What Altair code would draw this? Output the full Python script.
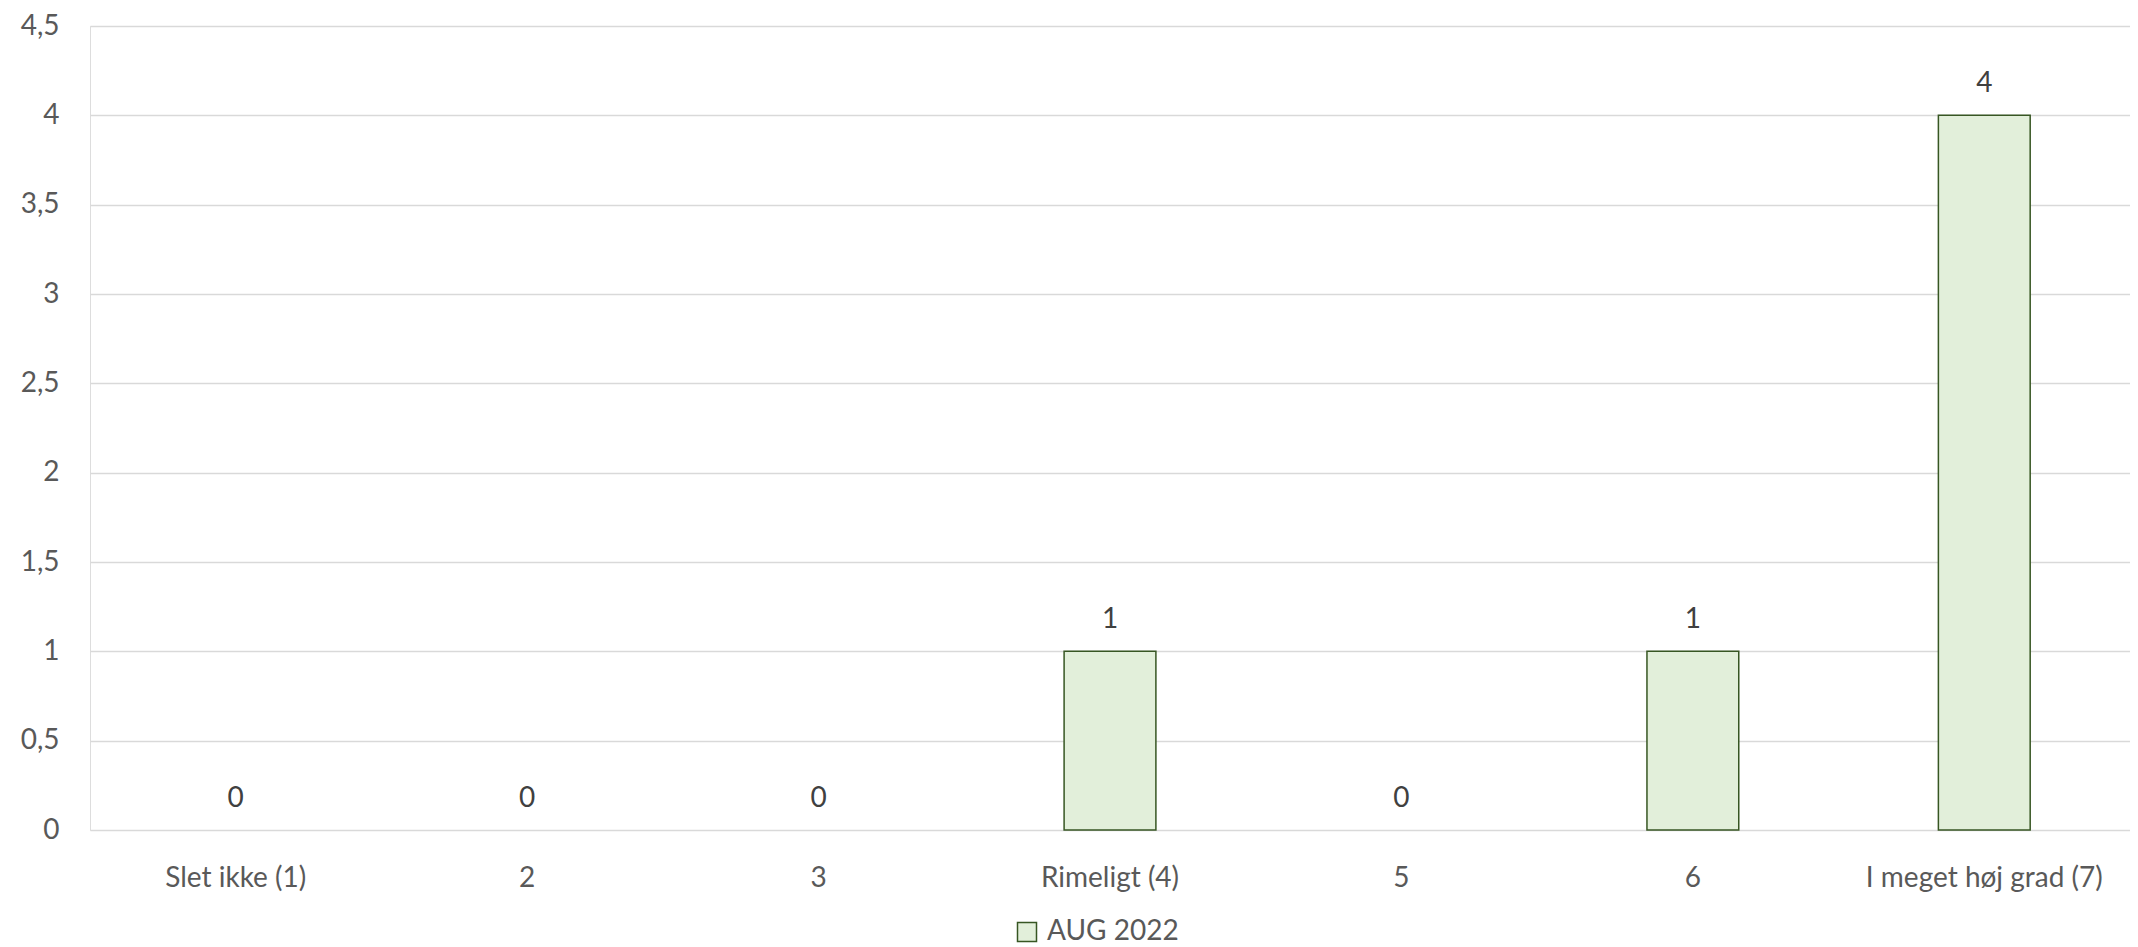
import altair as alt
import pandas as pd

categories = ["Slet ikke (1)", "2", "3", "Rimeligt (4)", "5", "6", "I meget høj grad (7)"]
values = [0, 0, 0, 1, 0, 1, 4]
series = "AUG 2022"
y_ticks = [0, 0.5, 1, 1.5, 2, 2.5, 3, 3.5, 4, 4.5]

df = pd.DataFrame({"cat": categories, "value": values, "series": [series] * len(categories)})

FONT = "Lato"
W, H = 2040, 804

x_enc = alt.X("cat:N", sort=categories, title=None,
              scale=alt.Scale(paddingInner=0.685, paddingOuter=0.3425),
              axis=alt.Axis(labelAngle=0, tickSize=0, domain=False, grid=False,
                            labelPadding=48, labelBaseline="middle", labelLimit=600,
                            labelFont=FONT, labelFontSize=28, labelColor="#595959"))
y_enc = alt.Y("value:Q", title=None, scale=alt.Scale(domain=[0, 4.5], nice=False),
              axis=alt.Axis(values=y_ticks, tickSize=0, domain=False, grid=True,
                            gridColor="#d9d9d9", gridWidth=1.5, labelPadding=31,
                            labelExpr="replace(toString(datum.value), '.', ',')",
                            labelFont=FONT, labelFontSize=28, labelColor="#595959"))

bars = alt.Chart(df).mark_bar(strokeWidth=1.5).encode(
    x=x_enc, y=y_enc,
    stroke=alt.condition("datum.value > 0", alt.value("#375623"), alt.value("transparent")),
    color=alt.Color("series:N", scale=alt.Scale(range=["#e2efda"]), title=None,
                    legend=alt.Legend(orient="none", legendX=923, legendY=892,
                                      symbolType="square", symbolSize=361,
                                      symbolStrokeColor="#375623", symbolStrokeWidth=1.5,
                                      symbolOpacity=1, labelFont=FONT, labelFontSize=28,
                                      labelColor="#595959", labelOffset=6)),
)

labels = alt.Chart(df).mark_text(dy=-31, baseline="middle", font=FONT, fontSize=28,
                                 color="#404040").encode(
    x=alt.X("cat:N", sort=categories), y=alt.Y("value:Q"), text=alt.Text("value:Q"))

chart = alt.layer(bars, labels).properties(
    width=W, height=H, autosize=alt.AutoSizeParams(type="none"),
    padding={"left": 82, "top": 18, "right": 0, "bottom": 116},
).configure_view(stroke=None).configure(background="white")

chart.save("out.html", embed_options={"renderer": "svg", "actions": False})
